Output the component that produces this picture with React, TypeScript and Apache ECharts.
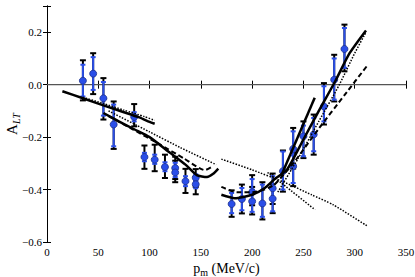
import React, { useEffect, useRef } from "react";
import * as echarts from "echarts";

// ---- data ----
const pm = [35, 45, 55, 65, 85, 95, 105, 115, 125, 125, 135, 145, 145, 180, 190, 200, 200, 210, 220, 220, 230, 240, 240, 250, 260, 270, 280, 290];
const aLT = [0.015, 0.042, -0.052, -0.152, -0.123, -0.276, -0.286, -0.314, -0.318, -0.335, -0.368, -0.355, -0.38, -0.455, -0.436, -0.41, -0.445, -0.453, -0.395, -0.435, -0.33, -0.245, -0.311, -0.197, -0.19, -0.083, 0.019, 0.136];
const statHi = [0.076, 0.105, 0.01, -0.076, -0.105, -0.26, -0.267, -0.296, -0.298, -0.315, -0.349, -0.342, -0.367, -0.413, -0.394, -0.36, -0.4, -0.381, -0.349, -0.39, -0.255, -0.178, -0.27, -0.156, -0.127, -0.006, 0.1, 0.216];
const statLo = [-0.045, -0.02, -0.118, -0.235, -0.14, -0.292, -0.302, -0.33, -0.338, -0.352, -0.387, -0.368, -0.395, -0.49, -0.479, -0.45, -0.485, -0.504, -0.44, -0.483, -0.4, -0.31, -0.375, -0.273, -0.254, -0.14, -0.057, 0.064];
const sysHi = [0.093, 0.12, 0.025, -0.064, -0.074, -0.232, -0.229, -0.267, -0.275, -0.29, -0.321, -0.322, -0.35, -0.403, -0.381, -0.345, -0.39, -0.372, -0.339, -0.38, -0.251, -0.165, -0.26, -0.14, -0.114, 0.006, 0.114, 0.229];
const sysLo = [-0.06, -0.036, -0.133, -0.245, -0.159, -0.321, -0.33, -0.356, -0.36, -0.372, -0.413, -0.39, -0.418, -0.504, -0.491, -0.46, -0.495, -0.514, -0.455, -0.49, -0.408, -0.32, -0.387, -0.28, -0.267, -0.152, -0.064, 0.051];

// theory curves [pm, A_LT]
const leftSolidA = [[15, -0.025], [35, -0.052], [55, -0.079], [75, -0.105], [90, -0.125], [100, -0.142], [105, -0.149]];
const leftDottedA = [[35, -0.048], [55, -0.072], [75, -0.097], [95, -0.122], [105, -0.136]];
const leftSolidB = [[55, -0.108], [70, -0.14], [85, -0.17], [100, -0.2], [120, -0.26], [135, -0.305], [146, -0.345], [156, -0.352], [162, -0.34], [167, -0.32]];
const leftDashedB = [[60, -0.12], [84, -0.171], [110, -0.228], [133, -0.28], [154, -0.326], [160, -0.315]];
const leftDottedB = [[60, -0.1], [100, -0.18], [130, -0.24], [165, -0.305]];
const rightSolid = [[170, -0.42], [183, -0.433], [200, -0.42], [212, -0.395], [222, -0.36], [234, -0.324], [250, -0.209], [265, -0.1], [281, 0.013], [295, 0.12], [311, 0.207]];
const rightSolidShort = [[228, -0.35], [261, -0.05]];
const rightDashed = [[170, -0.39], [185, -0.41], [200, -0.41], [212, -0.4], [222, -0.38], [240, -0.3], [264.5, -0.17], [290, -0.04], [311.7, 0.07]];
const rightDotted = [[225, -0.41], [245, -0.28], [265, -0.14], [285, 0.0], [300, 0.12], [311, 0.2]];
const longDotted = [[170, -0.284], [200, -0.325], [230, -0.37], [258, -0.42], [279, -0.458], [311.8, -0.538]];
const shortDotted = [[215, -0.335], [228.8, -0.376], [261.3, -0.477]];

const xTicks = [0, 50, 100, 150, 200, 250, 300, 350];

const BLUE = "#2a4ee8";
const SERIF = "Liberation Serif";

function fmtY(v: number) {
  if (v > 0.25) return "";
  const s = Math.abs(v).toFixed(1);
  return v < -1e-9 ? "\u2212" + s : s;
}

function errRender(color: string, capHalf: number, width: number) {
  return (params: any, api: any) => {
    const x = api.value(0);
    const lo = api.value(1);
    const hi = api.value(2);
    const t = api.coord([x, hi]);
    const b = api.coord([x, lo]);
    const st = { stroke: color, lineWidth: width };
    return {
      type: "group",
      children: [
        { type: "line", shape: { x1: t[0], y1: t[1], x2: b[0], y2: b[1] }, style: st },
        { type: "line", shape: { x1: t[0] - capHalf, y1: t[1], x2: t[0] + capHalf, y2: t[1] }, style: st },
        { type: "line", shape: { x1: b[0] - capHalf, y1: b[1], x2: b[0] + capHalf, y2: b[1] }, style: st },
      ],
    };
  };
}

function curve(data: number[][], type: any, width: number) {
  return {
    type: "line",
    data,
    showSymbol: false,
    smooth: 0.2,
    z: 5,
    lineStyle: { color: "#000", width, type },
    silent: true,
  };
}

export default function App() {
  const ref = useRef<HTMLDivElement>(null);
  useEffect(() => {
    if (!ref.current) return;
    const chart = echarts.init(ref.current, undefined, { renderer: "svg" });
    const sysData = pm.map((p, i) => [p, sysLo[i], sysHi[i]]);
    const statData = pm.map((p, i) => [p, statLo[i], statHi[i]]);
    const pts = pm.map((p, i) => [p, aLT[i]]);
    const tickCommon = { show: true, inside: true, length: 4, lineStyle: { color: "#000", width: 1 } };
    chart.setOption({
      animation: false,
      backgroundColor: "#fff",
      grid: { left: 47, right: 9, top: 6, bottom: 35, containLabel: false, outerBoundsMode: "none" },
      xAxis: [
        {
          type: "value",
          min: 0,
          max: 350,
          interval: 50,
          axisLine: { show: true, lineStyle: { color: "#000", width: 1 } },
          axisTick: tickCommon,
          splitLine: { show: false },
          axisLabel: {
            color: "#000",
            fontFamily: SERIF,
            fontSize: 11,
            margin: 4,
            formatter: (v: number) => (xTicks.indexOf(v) >= 0 ? String(v) : ""),
          },
          name: "{p|p}{m|m}{r| (MeV/c)}",
          nameLocation: "middle",
          nameGap: 15,
          nameTextStyle: {
            rich: {
              p: { fontFamily: SERIF, fontSize: 14, color: "#000", verticalAlign: "bottom" },
              m: { fontFamily: SERIF, fontSize: 10, color: "#000", verticalAlign: "bottom", padding: [0, 0, -2, 0] },
              r: { fontFamily: SERIF, fontSize: 14, color: "#000", verticalAlign: "bottom" },
            },
          },
        },
        {
          type: "value",
          position: "top",
          min: 0,
          max: 350,
          interval: 50,
          axisLine: { show: true, lineStyle: { color: "#000", width: 1 } },
          axisTick: tickCommon,
          axisLabel: { show: false },
          splitLine: { show: false },
        },
      ],
      yAxis: [
        {
          type: "value",
          min: -0.6,
          max: 0.3,
          interval: 0.2,
          axisLine: { show: true, lineStyle: { color: "#000", width: 1 } },
          axisTick: tickCommon,
          splitLine: { show: false },
          axisLabel: { color: "#000", fontFamily: SERIF, fontSize: 11, margin: 5, formatter: fmtY },
          name: "{a|A}{s|LT}",
          nameLocation: "middle",
          nameGap: 28,
          nameMoveOverlap: false,
          nameRotate: 90,
          nameTextStyle: {
            rich: {
              a: { fontFamily: SERIF, fontSize: 15, color: "#000", verticalAlign: "bottom" },
              s: { fontFamily: SERIF, fontStyle: "italic", fontSize: 10, color: "#000", verticalAlign: "bottom", padding: [0, 0, -2, 0] },
            },
          },
        },
        {
          type: "value",
          position: "right",
          min: -0.6,
          max: 0.3,
          interval: 0.2,
          axisLine: { show: true, lineStyle: { color: "#000", width: 1 } },
          axisTick: tickCommon,
          axisLabel: { show: false },
          splitLine: { show: false },
        },
      ],
      series: [
        {
          type: "line",
          data: [[0, 0], [350, 0]],
          showSymbol: false,
          lineStyle: { color: "#555", width: 1.2 },
          z: 1,
          silent: true,
        },
        {
          type: "custom",
          renderItem: errRender("#000", 3, 2),
          data: sysData,
          encode: { x: 0, y: [1, 2] },
          z: 2,
          silent: true,
        },
        {
          type: "custom",
          renderItem: errRender(BLUE, 2.5, 2),
          data: statData,
          encode: { x: 0, y: [1, 2] },
          z: 3,
          silent: true,
        },
        {
          type: "scatter",
          data: pts,
          symbol: "circle",
          symbolSize: 7,
          itemStyle: { color: BLUE, borderColor: "#1c2f8a", borderWidth: 0.8, opacity: 1 },
          z: 4,
          silent: true,
        },
        curve(leftSolidA, "solid", 2.5),
        curve(leftDottedA, [1.5, 1.5], 1.5),
        curve(leftSolidB, "solid", 2.5),
        curve(leftDashedB, [5, 3], 2),
        curve(leftDottedB, [1.5, 1.5], 1.5),
        curve(rightSolid, "solid", 2.5),
        curve(rightSolidShort, "solid", 2.5),
        curve(rightDashed, [5, 3], 2),
        curve(rightDotted, [1.5, 1.5], 1.5),
        curve(longDotted, [1.5, 1.5], 1.5),
        curve(shortDotted, [1.5, 1.5], 1.5),
      ],
    });
    return () => chart.dispose();
  }, []);
  return (
    <div
      ref={ref}
      style={{ position: "fixed", left: 0, top: 0, width: 415, height: 277, background: "#fff" }}
    />
  );
}
